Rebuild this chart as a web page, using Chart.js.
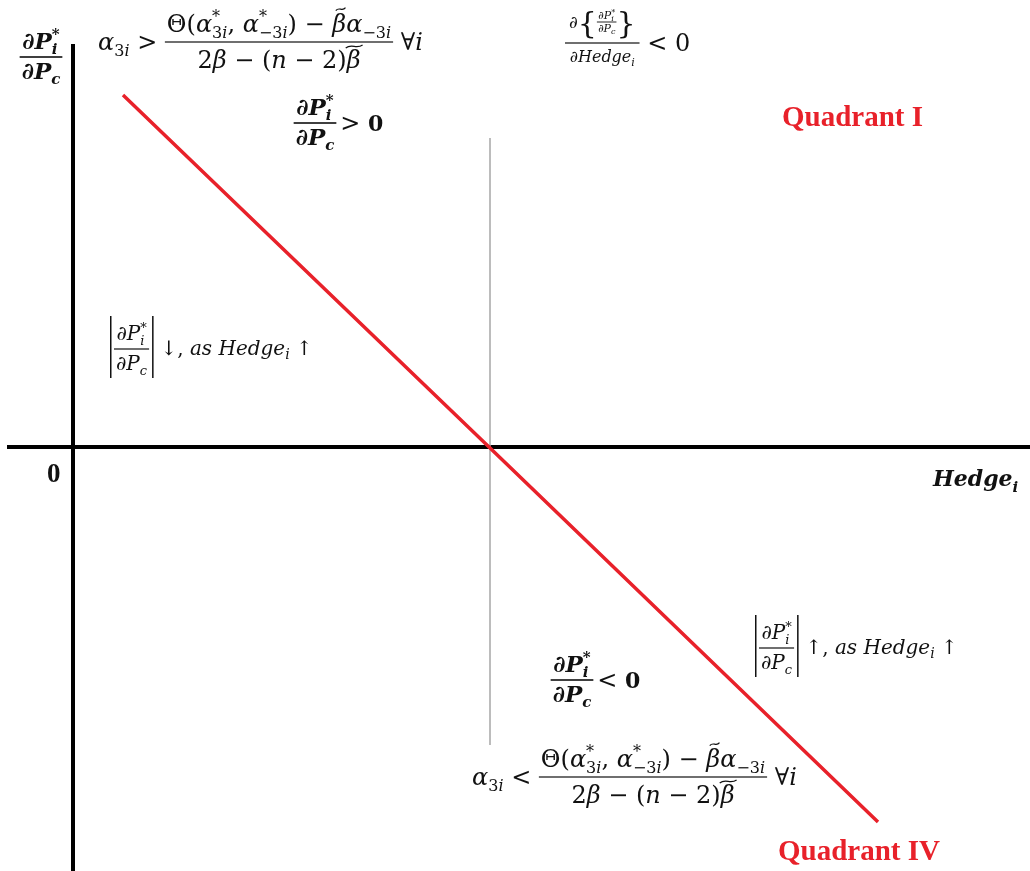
<!DOCTYPE html>
<html>
<head>
<meta charset="utf-8">
<script src="https://cdn.jsdelivr.net/npm/chart.js@4.4.1/dist/chart.umd.min.js"></script>
<style>
html, body { margin: 0; padding: 0; background: #fff; }
#wrap { width: 1030px; height: 871px; position: relative; }
</style>
</head>
<body>
<div id="wrap"><canvas id="quadrantChart"></canvas></div>
<script>
// price sensitivity dP*/dPc against the hedge level
var hedgeValues = [0.50, 4.16, 8.05];
var sensitivityValues = [3.52, 0, -3.75];

// extents of the two axes and of the threshold line
var hedgeAxisSpan = [-0.66, 9.57];
var sensitivityAxisSpan = [4.03, -4.24];
var thresholdHedge = 4.17;
var thresholdSpan = [3.09, -2.98];

var quadrantLabels = ['Quadrant I', 'Quadrant IV'];
var originLabel = '0';
var hedgeLabel = 'Hedge';

var RED = '#e8212a';
var INK = '#111';
var MATH = '"DejaVu Serif", "Liberation Serif", serif';

function fontOf(st, s, fam) {
  return (st.indexOf('i') >= 0 ? 'italic ' : '') + (st.indexOf('b') >= 0 ? 'bold ' : '') + s + 'px ' + (fam || MATH);
}
// piece of text: st = 'r' upright, 'i' italic, 'b'/'bi' bold
function T(t, st, s, dy, acc) { return { t: t, st: st, s: s, dy: dy || 0, acc: acc }; }
// superscript and subscript stacked at the same x
function S2(sup, sub, up, dn) { return { sup: sup, sub: sub, up: up, dn: dn }; }

function pieceWidth(ctx, p) {
  if (p.sup) return Math.max(runWidth(ctx, p.sup), runWidth(ctx, p.sub));
  ctx.font = fontOf(p.st, p.s);
  return ctx.measureText(p.t).width;
}
function runWidth(ctx, run) {
  var w = 0;
  run.forEach(function (p) { w += pieceWidth(ctx, p); });
  return w;
}
function drawTilde(ctx, x, y, w) {
  ctx.save();
  ctx.lineWidth = 1.2;
  ctx.strokeStyle = ctx.fillStyle;
  ctx.beginPath();
  ctx.moveTo(x, y + 1.5);
  ctx.bezierCurveTo(x + w * 0.35, y - 3, x + w * 0.65, y + 3, x + w, y - 1.5);
  ctx.stroke();
  ctx.restore();
}
function drawRun(ctx, run, x, y) {
  run.forEach(function (p) {
    var w = pieceWidth(ctx, p);
    if (p.sup) {
      drawRun(ctx, p.sup, x, y - p.up);
      drawRun(ctx, p.sub, x, y + p.dn);
    } else {
      ctx.font = fontOf(p.st, p.s);
      ctx.fillText(p.t, x, y + p.dy);
      if (p.acc === 'wide') drawTilde(ctx, x - 1, y + p.dy - p.s * 0.9, w + 3);
      else if (p.acc) drawTilde(ctx, x + w * 0.25, y + p.dy - p.s * 0.95, w * 0.7);
    }
    x += w;
  });
  return x;
}
function drawFrac(ctx, num, den, x, lineY, o) {
  var wn = runWidth(ctx, num), wd = runWidth(ctx, den);
  var w = Math.max(wn, wd) + 2 * o.pad;
  drawRun(ctx, num, x + (w - wn) / 2, lineY - o.up);
  drawRun(ctx, den, x + (w - wd) / 2, lineY + o.dn);
  ctx.fillRect(x, lineY - o.lw / 2, w, o.lw);
  return x + w;
}
function fracWidth(ctx, num, den, o) {
  return Math.max(runWidth(ctx, num), runWidth(ctx, den)) + 2 * o.pad;
}

// dP*_i / dP_c in bold and in regular weight
var boldNum = [T('∂', 'b', 23), T('P', 'bi', 23), S2([T('*', 'b', 15)], [T('i', 'bi', 15)], 10, 5)];
var boldDen = [T('∂', 'b', 23), T('P', 'bi', 23), T('c', 'bi', 15, 5)];
var boldOpt = { up: 8, dn: 22, pad: 2, lw: 1.6 };
var plainNum = [T('∂', 'r', 20), T('P', 'i', 20), S2([T('*', 'r', 13)], [T('i', 'i', 13)], 8, 5)];
var plainDen = [T('∂', 'r', 20), T('P', 'i', 20), T('c', 'i', 13, 5)];
var plainOpt = { up: 9, dn: 21, pad: 2, lw: 1.2 };

// threshold on alpha_3i
var condNum = [
  T('Θ(', 'r', 24), T('α', 'i', 24), S2([T('*', 'r', 16)], [T('3', 'r', 16), T('i', 'i', 16)], 10, 6),
  T(', ', 'r', 24), T('α', 'i', 24), S2([T('*', 'r', 16)], [T('−3', 'r', 16), T('i', 'i', 16)], 10, 6),
  T(') − ', 'r', 24), T('β', 'i', 24, 0, 'n'), T('α', 'i', 24), T('−3', 'r', 16, 6), T('i', 'i', 16, 6)
];
var condDen = [T('2', 'r', 24), T('β', 'i', 24), T(' − (', 'r', 24), T('n', 'i', 24), T(' − 2)', 'r', 24), T('β', 'i', 24, 0, 'wide')];
var condOpt = { up: 10, dn: 26, pad: 2, lw: 1.2 };
function condLead(rel) { return [T('α', 'i', 24), T('3', 'r', 16, 6), T('i', 'i', 16, 6), T(' ' + rel + ' ', 'r', 24)]; }
var condTail = [T(' ∀', 'r', 24), T('i', 'i', 24)];

function drawCondition(ctx, x, lineY, rel) {
  x = drawRun(ctx, condLead(rel), x, lineY + 8);
  x = drawFrac(ctx, condNum, condDen, x, lineY, condOpt);
  drawRun(ctx, condTail, x, lineY + 8);
}
function drawSign(ctx, cx, lineY, rel) {
  var w = fracWidth(ctx, boldNum, boldDen, boldOpt);
  var x = drawFrac(ctx, boldNum, boldDen, cx - w / 2, lineY, boldOpt);
  drawRun(ctx, [T(rel + ' ', 'r', 24), T('0', 'b', 22)], x + 4, lineY + 8);
}
function drawAbs(ctx, x, lineY, arrow) {
  ctx.fillRect(x, lineY - 33, 1.5, 62);
  var x2 = drawFrac(ctx, plainNum, plainDen, x + 4, lineY, plainOpt) + 3;
  ctx.fillRect(x2, lineY - 33, 1.5, 62);
  drawRun(ctx, [T(' ' + arrow + ', ', 'r', 20), T('as Hedge', 'i', 20), T('i', 'i', 14, 4), T(' ↑', 'r', 20)], x2 + 2, lineY + 6);
}
function drawHedgeDerivative(ctx, x, lineY) {
  // numerator: d{ dP*_i / dP_c }
  var inNum = [T('∂', 'r', 11), T('P', 'i', 11), S2([T('*', 'r', 8)], [T('i', 'i', 8)], 4, 2)];
  var inDen = [T('∂', 'r', 11), T('P', 'i', 11), T('c', 'i', 8, 2)];
  var inOpt = { up: 3, dn: 10, pad: 1, lw: 0.9 };
  var den = [T('∂', 'r', 16), T('Hedge', 'i', 16), T('i', 'i', 11, 4)];
  ctx.font = fontOf('r', 17);
  var dW = ctx.measureText('∂').width;
  ctx.font = fontOf('r', 30);
  var bW = ctx.measureText('{').width;
  var iW = fracWidth(ctx, inNum, inDen, inOpt);
  var numW = dW + 2 * bW + iW;
  var denW = runWidth(ctx, den);
  var w = Math.max(numW, denW) + 8;
  var nx = x + (w - numW) / 2;
  var ny = lineY - 21;
  ctx.font = fontOf('r', 17);
  ctx.fillText('∂', nx, ny + 6);
  ctx.font = fontOf('r', 30);
  ctx.fillText('{', nx + dW, ny + 11);
  drawFrac(ctx, inNum, inDen, nx + dW + bW, ny, inOpt);
  ctx.font = fontOf('r', 30);
  ctx.fillText('}', nx + dW + bW + iW, ny + 11);
  drawRun(ctx, den, x + (w - denW) / 2, lineY + 19);
  ctx.fillRect(x, lineY - 0.6, w, 1.2);
  drawRun(ctx, [T(' < 0', 'r', 24)], x + w, lineY + 8);
}

var annotations = {
  id: 'annotations',
  afterDraw: function (chart) {
    var ctx = chart.ctx, xs = chart.scales.x, ys = chart.scales.y;
    var X = function (v) { return xs.getPixelForValue(v); };
    var Y = function (v) { return ys.getPixelForValue(v); };
    ctx.save();
    ctx.fillStyle = INK;
    ctx.textBaseline = 'alphabetic';

    // vertical axis title
    var w = fracWidth(ctx, boldNum, boldDen, boldOpt);
    drawFrac(ctx, boldNum, boldDen, X(-0.32) - w / 2, Y(3.90), boldOpt);

    drawCondition(ctx, X(0.25), Y(4.05), '>');
    drawHedgeDerivative(ctx, X(4.92), Y(4.04));
    drawSign(ctx, X(2.42), Y(3.24), '>');
    drawAbs(ctx, X(0.37), Y(0.98), '↓');
    drawSign(ctx, X(4.99), Y(-2.33), '<');
    drawAbs(ctx, X(6.82), Y(-2.01), '↑');
    drawCondition(ctx, X(3.99), Y(-3.30), '<');

    // origin and horizontal axis title
    ctx.font = 'bold 27px "Liberation Serif", serif';
    ctx.fillText(originLabel, X(-0.26), Y(-0.35));
    drawRun(ctx, [T(hedgeLabel, 'bi', 22), T('i', 'bi', 15, 6)], X(8.60), Y(-0.39));

    ctx.fillStyle = RED;
    ctx.font = 'bold 29px "Liberation Serif", serif';
    ctx.fillText(quadrantLabels[0], X(7.09), Y(3.21));
    ctx.fillText(quadrantLabels[1], X(7.05), Y(-4.13));
    ctx.restore();
  }
};

function pairs(xsv, ysv) {
  return xsv.map(function (x, i) { return { x: x, y: ysv[i] }; });
}

new Chart(document.getElementById('quadrantChart'), {
  type: 'scatter',
  data: {
    datasets: [
      {
        data: pairs(hedgeValues, sensitivityValues),
        showLine: true, borderColor: RED, borderWidth: 3.5, pointRadius: 0, order: 0
      },
      {
        data: pairs([thresholdHedge, thresholdHedge], thresholdSpan),
        showLine: true, borderColor: '#a6a6a6', borderWidth: 1.5, pointRadius: 0, order: 1
      },
      {
        data: pairs(hedgeAxisSpan, [0, 0]),
        showLine: true, borderColor: '#000', borderWidth: 4, pointRadius: 0, order: 2
      },
      {
        data: pairs([0, 0], sensitivityAxisSpan),
        showLine: true, borderColor: '#000', borderWidth: 4, pointRadius: 0, order: 2
      }
    ]
  },
  options: {
    responsive: true,
    maintainAspectRatio: false,
    animation: false,
    layout: { padding: 0 },
    plugins: { legend: { display: false }, tooltip: { enabled: false } },
    scales: {
      x: { type: 'linear', min: -0.73, max: 9.57, display: false },
      y: { type: 'linear', min: -4.24, max: 4.47, display: false }
    }
  },
  plugins: [annotations]
});
</script>
</body>
</html>
